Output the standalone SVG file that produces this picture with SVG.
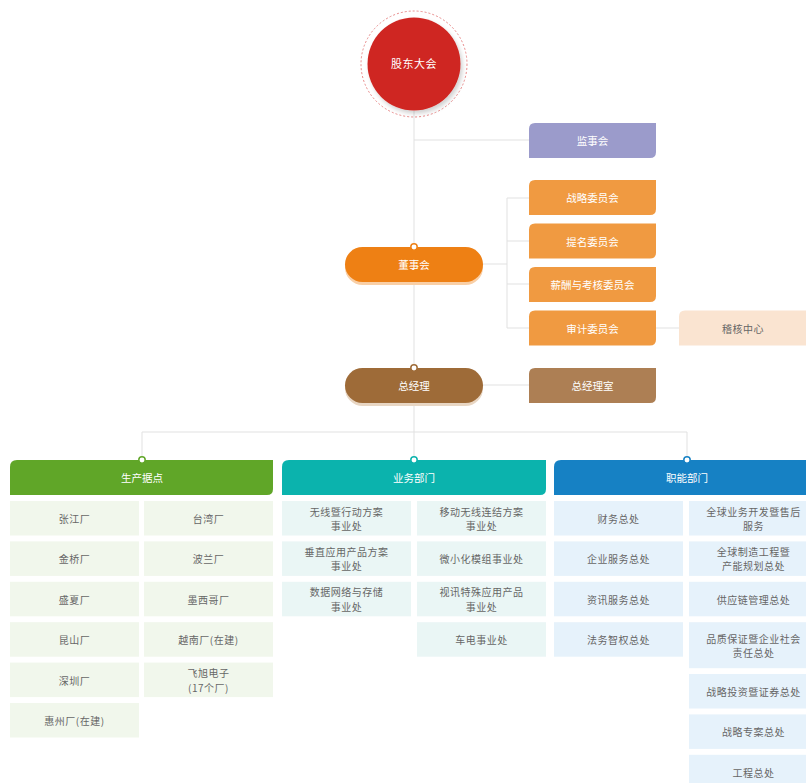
<svg xmlns="http://www.w3.org/2000/svg" width="806" height="783" viewBox="0 0 806 783">
<defs>
<style>
text{font-family:"Noto Sans CJK SC","Noto Sans",sans-serif;text-anchor:middle;dominant-baseline:central}
.w{fill:#fff;font-size:10.5px}
.g{fill:#666;font-size:10px;letter-spacing:0.5px}
.ln{stroke:#e1e1e1;stroke-width:1;fill:none}
.cg{fill:#f1f7ec}.ct{fill:#eaf6f5}.cb{fill:#e6f2fb}
</style>
<filter id="sh" x="-20%" y="-20%" width="150%" height="150%"><feDropShadow dx="2" dy="3" stdDeviation="2" flood-color="#000" flood-opacity="0.18"/></filter>
</defs>
<rect width="806" height="783" fill="#fff"/>
<g id="connectors">
<path class="ln" d="M414,111V460M414,140H529M483,264H507M507,198V328M507,198H529M507,241H529M507,284H529M507,328H529M656,328H679M483,385H529M142,460V432H687V460"/>
</g>
<g id="gudong">
<circle cx="414" cy="64" r="53" fill="none" stroke="#e88a8a" stroke-width="1" stroke-dasharray="2 2"/>
<circle cx="414" cy="64" r="46.5" fill="#cf2623" filter="url(#sh)"/>
<text x="414" y="63" class="w" style="font-size:11px;letter-spacing:0.5px">股东大会</text>
</g>
<g id="jianshi"><path d="M535,123H656V152Q656,158 650,158H529V129Q529,123 535,123Z" fill="#9b9bcb"/><text x="592.5" y="140.5" class="w">监事会</text></g>
<g id="zhanlue"><path d="M535,180H656V209Q656,215 650,215H529V186Q529,180 535,180Z" fill="#f09a41"/><text x="592.5" y="197.5" class="w">战略委员会</text></g>
<g id="timing"><path d="M535,223.5H656V252.5Q656,258.5 650,258.5H529V229.5Q529,223.5 535,223.5Z" fill="#f09a41"/><text x="592.5" y="241" class="w">提名委员会</text></g>
<g id="xinchou"><path d="M535,267H656V296Q656,302 650,302H529V273Q529,267 535,267Z" fill="#f09a41"/><text x="592.5" y="284.5" class="w">薪酬与考核委员会</text></g>
<g id="shenji"><path d="M535,310.5H656V339.5Q656,345.5 650,345.5H529V316.5Q529,310.5 535,310.5Z" fill="#f09a41"/><text x="592.5" y="328" class="w">审计委员会</text></g>
<g id="jihe"><path d="M685,310.5H812V339.5Q812,345.5 806,345.5H679V316.5Q679,310.5 685,310.5Z" fill="#fae4d1"/><text x="743" y="328" class="g">稽核中心</text></g>
<g id="dongshi">
<rect x="345" y="250" width="138" height="35" rx="17.5" fill="#f9cfa6"/>
<rect x="345" y="247" width="138" height="35" rx="17.5" fill="#ee8014"/>
<circle cx="414" cy="247" r="3.2" fill="#fff" stroke="#ee8014" stroke-width="1.5"/>
<text x="414" y="264.5" class="w">董事会</text>
</g>
<g id="zongjingli">
<rect x="345" y="371" width="138" height="35" rx="17.5" fill="#e8d6c3"/>
<rect x="345" y="368" width="138" height="35" rx="17.5" fill="#9e6b38"/>
<circle cx="414" cy="368" r="3.2" fill="#fff" stroke="#9e6b38" stroke-width="1.5"/>
<text x="414" y="385.5" class="w">总经理</text>
</g>
<g id="zongjinglishi"><path d="M535,368H656V397Q656,403 650,403H529V374Q529,368 535,368Z" fill="#ad7f54"/><text x="592.5" y="385.5" class="w">总经理室</text></g>

<g id="shengchan">
<path d="M17,460H273V489Q273,495 267,495H10V467Q10,460 17,460Z" fill="#60a628"/>
<circle cx="142" cy="460" r="3.2" fill="#fff" stroke="#60a628" stroke-width="1.5"/>
<text x="142" y="477.5" class="w">生产据点</text>
</g>
<g id="zhangjiang"><rect class="cg" x="10" y="501" width="129" height="34.5"/><text class="g" x="74.5" y="518.5">张江厂</text></g>
<g id="jinqiao"><rect class="cg" x="10" y="541.4" width="129" height="34.5"/><text class="g" x="74.5" y="558.9">金桥厂</text></g>
<g id="shengxia"><rect class="cg" x="10" y="581.8" width="129" height="34.5"/><text class="g" x="74.5" y="599.3">盛夏厂</text></g>
<g id="kunshan"><rect class="cg" x="10" y="622.2" width="129" height="34.5"/><text class="g" x="74.5" y="639.7">昆山厂</text></g>
<g id="shenzhen"><rect class="cg" x="10" y="662.6" width="129" height="34.5"/><text class="g" x="74.5" y="680.1">深圳厂</text></g>
<g id="huizhou"><rect class="cg" x="10" y="703" width="129" height="34.5"/><text class="g" x="74.5" y="720.5">惠州厂(在建)</text></g>
<g id="taiwan"><rect class="cg" x="144" y="501" width="129" height="34.5"/><text class="g" x="208.5" y="518.5">台湾厂</text></g>
<g id="bolan"><rect class="cg" x="144" y="541.4" width="129" height="34.5"/><text class="g" x="208.5" y="558.9">波兰厂</text></g>
<g id="moxige"><rect class="cg" x="144" y="581.8" width="129" height="34.5"/><text class="g" x="208.5" y="599.3">墨西哥厂</text></g>
<g id="yuenan"><rect class="cg" x="144" y="622.2" width="129" height="34.5"/><text class="g" x="208.5" y="639.7">越南厂(在建)</text></g>
<g id="feixu"><rect class="cg" x="144" y="662.6" width="129" height="34.5"/><text class="g" x="208.5" y="672.6">飞旭电子</text><text class="g" x="208.5" y="687.1">(17个厂)</text></g>

<g id="yewu">
<path d="M289,460H546V489Q546,495 540,495H282V467Q282,460 289,460Z" fill="#0bb3ad"/>
<circle cx="414" cy="460" r="3.2" fill="#fff" stroke="#0bb3ad" stroke-width="1.5"/>
<text x="414" y="477.5" class="w">业务部门</text>
</g>
<g id="wuxian"><rect class="ct" x="282" y="501" width="129" height="34.5"/><text class="g" x="346.5" y="511">无线暨行动方案</text><text class="g" x="346.5" y="525.5">事业处</text></g>
<g id="chuizhi"><rect class="ct" x="282" y="541.4" width="129" height="34.5"/><text class="g" x="346.5" y="551.4">垂直应用产品方案</text><text class="g" x="346.5" y="565.9">事业处</text></g>
<g id="shuju"><rect class="ct" x="282" y="581.8" width="129" height="34.5"/><text class="g" x="346.5" y="591.8">数据网络与存储</text><text class="g" x="346.5" y="606.3">事业处</text></g>
<g id="yidong"><rect class="ct" x="417" y="501" width="129" height="34.5"/><text class="g" x="481.5" y="511">移动无线连结方案</text><text class="g" x="481.5" y="525.5">事业处</text></g>
<g id="weixiao"><rect class="ct" x="417" y="541.4" width="129" height="34.5"/><text class="g" x="481.5" y="558.9">微小化模组事业处</text></g>
<g id="shixun"><rect class="ct" x="417" y="581.8" width="129" height="34.5"/><text class="g" x="481.5" y="591.8">视讯特殊应用产品</text><text class="g" x="481.5" y="606.3">事业处</text></g>
<g id="chedian"><rect class="ct" x="417" y="622.2" width="129" height="34.5"/><text class="g" x="481.5" y="639.7">车电事业处</text></g>

<g id="zhineng">
<path d="M561,460H818V489Q818,495 812,495H554V467Q554,460 561,460Z" fill="#1681c4"/>
<circle cx="687" cy="460" r="3.2" fill="#fff" stroke="#1681c4" stroke-width="1.5"/>
<text x="687" y="477.5" class="w">职能部门</text>
</g>
<g id="caiwu"><rect class="cb" x="554" y="501" width="129" height="34.5"/><text class="g" x="618.5" y="518.5">财务总处</text></g>
<g id="qiye"><rect class="cb" x="554" y="541.4" width="129" height="34.5"/><text class="g" x="618.5" y="558.9">企业服务总处</text></g>
<g id="zixun"><rect class="cb" x="554" y="581.8" width="129" height="34.5"/><text class="g" x="618.5" y="599.3">资讯服务总处</text></g>
<g id="fawu"><rect class="cb" x="554" y="622.2" width="129" height="34.5"/><text class="g" x="618.5" y="639.7">法务智权总处</text></g>
<g id="quanqiuyewu"><rect class="cb" x="689" y="501" width="129" height="34.5"/><text class="g" x="753.5" y="511">全球业务开发暨售后</text><text class="g" x="753.5" y="525.5">服务</text></g>
<g id="quanqiuzhizao"><rect class="cb" x="689" y="541.4" width="129" height="34.5"/><text class="g" x="753.5" y="551.4">全球制造工程暨</text><text class="g" x="753.5" y="565.9">产能规划总处</text></g>
<g id="gongyinglian"><rect class="cb" x="689" y="581.8" width="129" height="34.5"/><text class="g" x="753.5" y="599.3">供应链管理总处</text></g>
<g id="pinzhi"><rect class="cb" x="689" y="622.2" width="129" height="46"/><text class="g" x="753.5" y="638">品质保证暨企业社会</text><text class="g" x="753.5" y="652.5">责任总处</text></g>
<g id="touzi"><rect class="cb" x="689" y="674" width="129" height="34.5"/><text class="g" x="753.5" y="691.5">战略投资暨证券总处</text></g>
<g id="zhuanan"><rect class="cb" x="689" y="714.4" width="129" height="34.5"/><text class="g" x="753.5" y="731.9">战略专案总处</text></g>
<g id="gongcheng"><rect class="cb" x="689" y="754.8" width="129" height="34.5"/><text class="g" x="753.5" y="772.3">工程总处</text></g>
</svg>
